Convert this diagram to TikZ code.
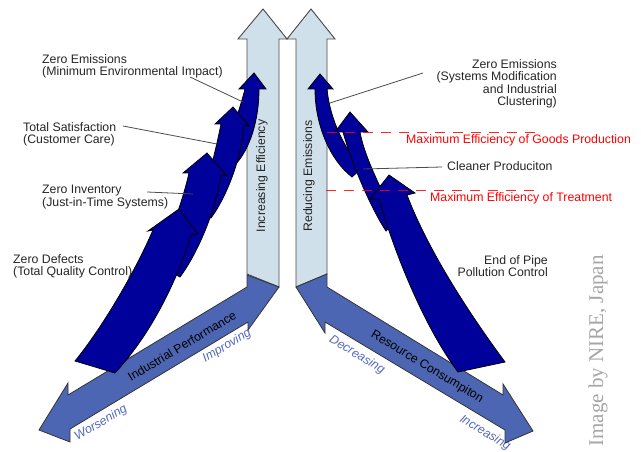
\documentclass[tikz,border=0pt]{standalone}
\usepackage{fontspec}
\setmainfont{Liberation Sans}
\newfontfamily\wmfont{Liberation Serif}
\definecolor{navyA}{HTML}{00009A}
\definecolor{diagB}{HTML}{4D66B3}
\definecolor{shaftC}{HTML}{D0E0EA}
\definecolor{italB}{HTML}{5468C0}
\begin{document}
\begin{tikzpicture}[x=1bp, y=-1bp, line join=miter,
  shaft/.style={fill=shaftC, draw=black!70, line width=0.9bp},
  diag/.style={fill=diagB, draw=black!80, line width=0.8bp},
  curv/.style={fill=navyA, draw=black, line width=0.8bp},
  lead/.style={draw=black!70, line width=0.8bp},
  redline/.style={draw=red, line width=0.9bp, dash pattern=on 10bp off 8bp, opacity=0.85},
  lab/.style={font=\fontsize{12.3bp}{12.5bp}\selectfont, text=black!85, inner sep=0pt},
  dirlab/.style={font=\fontsize{12.3bp}{12.5bp}\selectfont\itshape, text=italB, inner sep=0pt},
  wmark/.style={font=\wmfont\fontsize{21bp}{21bp}\selectfont, text=black!35, inner sep=0pt}]
\useasboundingbox (0,0) rectangle (641,452);
\fill[white] (0,0) rectangle (641,452);

% vertical shafts
\draw[shaft] (247,274) -- (247,39) -- (238,39) -- (263,9) -- (287,39) -- (279,39) -- (279,287) -- cycle;
\draw[shaft] (296,287) -- (296,39) -- (287,39) -- (311,9) -- (335,39) -- (327,39) -- (327,274) -- cycle;
\node[lab, rotate=90] (ie) at (262,176) {Increasing Efficiency};
\node[lab, rotate=90] (re) at (309,176) {Reducing Emissions};

% direction words
\node[dirlab, rotate=31] (imp) at (227,346) {Improving};
\node[dirlab, rotate=31] (wor) at (101,423) {Worsening};
\node[dirlab, rotate=-31] (dec) at (357,355) {Decreasing};
\node[dirlab, rotate=-31] (inc) at (485,433) {Increasing};

% diagonal arrows
\draw[diag] (247,275) -- (279,287) -- (248,330) -- (248,322) -- (70,429) -- (70,442) -- (39,430) -- (68,383) -- (68,395) -- (247,287) -- cycle;
\draw[diag] (296,287) -- (327,274) -- (327,287) -- (503,395) -- (503,384) -- (533,431) -- (505,443) -- (505,430) -- (325,322) -- (325,333) -- cycle;
\node[lab, text=black, rotate=31] (ip) at (182,346) {Industrial Performance};
\node[lab, text=black, rotate=-31] (rc) at (427,367) {Resource Consumpiton};

% left curved arrows (top first)
\draw[curv] (226,158) .. controls (232,130) and (241,105) .. (245,89) -- (239,89) -- (254,73) -- (266,89) -- (259,89) .. controls (259,120) and (250,150) .. (234,166) -- cycle;
\draw[curv] (200,212) .. controls (208,180) and (217,145) .. (221,124) -- (215,124) -- (233,107) -- (249,126) -- (244,125) .. controls (242,155) and (228,195) .. (211,218) -- cycle;
\draw[curv] (158,265) .. controls (170,235) and (183,200) .. (189,173) -- (183,173) -- (207,153) -- (227,176) -- (221,175) .. controls (217,205) and (200,250) .. (180,277) -- cycle;
\draw[curv] (75,361) .. controls (102,328) and (135,272) .. (153,230) -- (148,231) -- (179,209) -- (198,234) -- (191,235) .. controls (180,272) and (155,330) .. (115,373) -- cycle;

% right curved arrows (top first)
\draw[curv] (315,89) -- (308,89) -- (320,74) -- (333,89) -- (327,89) .. controls (330,120) and (345,150) .. (362,168) -- (352,177) .. controls (330,160) and (315,125) .. (315,89) -- cycle;
\draw[curv] (343,132) -- (335,132) -- (350,112) -- (368,132) -- (360,132) .. controls (365,160) and (385,195) .. (396,222) -- (386,231) .. controls (372,210) and (352,165) .. (343,132) -- cycle;
\draw[curv] (379,199) -- (370,199) -- (389,175) -- (415,193) -- (407,195) .. controls (428,250) and (468,312) .. (505,362) -- (458,372) .. controls (425,328) and (395,255) .. (379,199) -- cycle;

% leader lines
\coordinate (l1a) at (190,77);  \coordinate (l1b) at (243,102);
\coordinate (l2a) at (123,126); \coordinate (l2b) at (217,144);
\coordinate (l3a) at (147,192); \coordinate (l3b) at (193,194);
\coordinate (l4a) at (423,73);  \coordinate (l4b) at (330,103);
\coordinate (l5a) at (442,167); \coordinate (l5b) at (363,169);
\draw[lead] (l1a) -- (l1b);
\draw[lead] (l2a) -- (l2b);
\draw[lead] (l3a) -- (l3b);
\draw[lead] (l4a) -- (l4b);
\draw[lead] (l5a) -- (l5b);

% dashed red levels
\coordinate (d1a) at (327,132); \coordinate (d1b) at (536,132);
\coordinate (d2a) at (326,190); \coordinate (d2b) at (536,190);
\draw[redline] (d1a) -- (d1b);
\draw[redline] (d2a) -- (d2b);

% labels
\node[lab, anchor=north west, align=left] (zel) at (42,54) {Zero Emissions\\(Minimum Environmental Impact)};
\node[lab, anchor=north west, align=left] (ts) at (23,122) {Total Satisfaction\\(Customer Care)};
\node[lab, anchor=north west, align=left] (zi) at (42,185) {Zero Inventory\\(Just-in-Time Systems)};
\node[lab, anchor=north west, align=left] (zd) at (13,254) {Zero Defects\\(Total Quality Control)};
\node[lab, anchor=north east, align=right] (zer) at (557,59) {Zero Emissions\\(Systems Modification\\and Industrial\\Clustering)};
\node[lab, anchor=base west, text=red] (meg) at (406,144) {Maximum Efficiency of Goods Production};
\node[lab, anchor=base west] (cp) at (447,171) {Cleaner Produciton};
\node[lab, anchor=base west, text=red] (met) at (430,201.5) {Maximum Efficiency of Treatment};
\node[lab, anchor=north east, align=right] (eop) at (548,255) {End of Pipe\\Pollution Control};

% watermark
\node[wmark, rotate=90] (wm) at (598,351) {Image by NIRE, Japan};
\end{tikzpicture}
\end{document}
